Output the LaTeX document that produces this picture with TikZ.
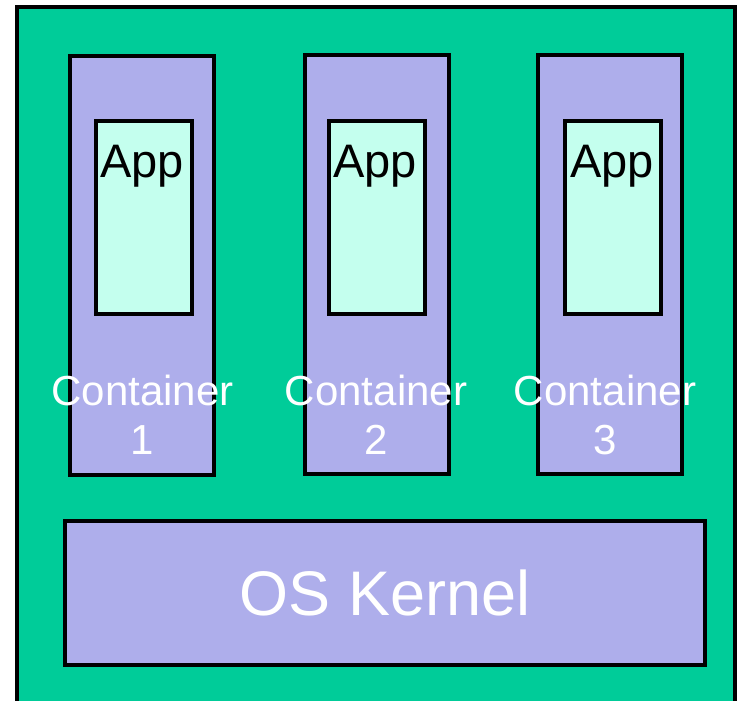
\documentclass[tikz,border=0pt]{standalone}
\usepackage{fontspec}
\setmainfont{Liberation Sans}
\definecolor{bggreen}{RGB}{0,204,153}
\definecolor{lav}{RGB}{174,174,235}
\definecolor{appc}{RGB}{196,255,238}
\begin{document}
\begin{tikzpicture}[x=1pt,y=-1pt,
  box/.style={draw=black,line width=4pt,inner sep=0pt,outer sep=0pt,anchor=north west},
  contbox/.style={box,fill=lav,minimum width=144pt,minimum height=419pt},
  appbox/.style={box,fill=appc,minimum width=96pt,minimum height=193pt},
  apptext/.style={anchor=base,inner sep=0pt,font=\fontsize{47}{54}\selectfont},
  conttext/.style={anchor=base,inner sep=0pt,text=white,align=center,font=\fontsize{42}{49}\selectfont},
]
\useasboundingbox (0,0) rectangle (740,701);
\node[box,fill=bggreen,minimum width=718pt,minimum height=740pt] (outer) at (17,7) {};
\node[contbox] (c1) at (70,56) {};
\node[contbox] (c2) at (305,55) {};
\node[contbox] (c3) at (538,55) {};
\node[appbox] (a1) at (96,121) {};
\node[appbox] (a2) at (329,121) {};
\node[appbox] (a3) at (565,121) {};
\node[apptext] (t1) at (142,178) {App};
\node[apptext] (t2) at (375,178) {App};
\node[apptext] (t3) at (612,178) {App};
\node[conttext] (l1) at (142.5,454) {Container\\1};
\node[conttext] (l2) at (376,454) {Container\\2};
\node[conttext] (l3) at (605,454) {Container\\3};
\node[box,fill=lav,minimum width=640pt,minimum height=144pt] (kernel) at (65,521) {};
\node[text=white,inner sep=0pt,font=\fontsize{63}{70}\selectfont] (kt) at (kernel.center) {OS Kernel};
\end{tikzpicture}
\end{document}
